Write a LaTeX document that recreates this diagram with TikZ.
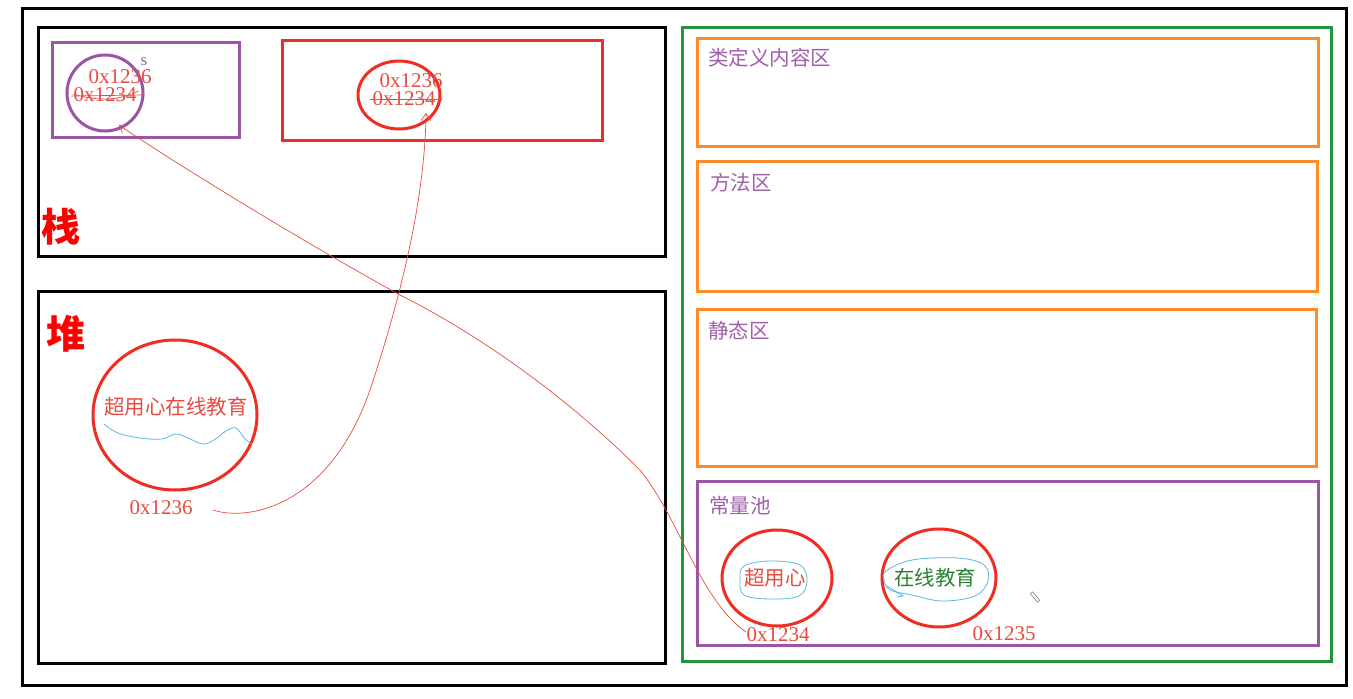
\documentclass[tikz,border=0pt]{standalone}
\usepackage{fontspec}
\setmainfont{Liberation Serif}
\newfontfamily\cjk{Noto Sans CJK SC}
\usetikzlibrary{shapes.geometric,arrows.meta}
\definecolor{cgreen}{RGB}{34,150,60}
\definecolor{corange}{RGB}{255,140,40}
\definecolor{cpurple}{RGB}{155,85,165}
\definecolor{cred}{RGB}{240,45,35}
\definecolor{tred}{RGB}{232,75,65}
\definecolor{tpurple}{RGB}{160,95,170}
\definecolor{cblue}{RGB}{90,185,225}
\definecolor{tgreen}{RGB}{40,130,50}
\tikzset{
  box/.style={draw, line width=3pt},
  circ/.style={ellipse, draw, line width=3pt, inner sep=0pt},
  hexlbl/.style={font=\fontsize{21}{21}\selectfont, text=tred, inner sep=0pt},
  cnlbl/.style={font=\cjk\fontsize{20.5}{20.5}\selectfont, inner sep=0pt},
  biglbl/.style={font=\cjk\bfseries\fontsize{39}{39}\selectfont, text=red, inner sep=0pt},
  strike/.style={draw=tred, line width=0.7pt},
  wire/.style={draw=tred, line width=0.7pt},
  wave/.style={draw=cblue, line width=0.8pt}
}
\begin{document}
\begin{tikzpicture}[x=1pt,y=-1pt]
\useasboundingbox (0,0) rectangle (1353,699);
\fill[white] (0,0) rectangle (1353,699);
% outer frame
\draw[box] (22,8) rectangle (1346,685);
% stack and heap
\draw[box] (38,27) rectangle (665,256);
\draw[box] (38,291) rectangle (665,663);
\node[biglbl] (zhan) at (61,227) {栈};
\node[biglbl] (dui) at (66,334) {堆};
% method area
\draw[box, draw=cgreen] (682,27) rectangle (1331,661);
\draw[box, draw=corange] (697,38) rectangle (1318,146);
\draw[box, draw=corange] (697,161) rectangle (1317,291);
\draw[box, draw=corange] (697,309) rectangle (1316,466);
\draw[box, draw=cpurple] (697,481) rectangle (1318,645);
\node[cnlbl, text=tpurple, anchor=west] (l1) at (708,58) {类定义内容区};
\node[cnlbl, text=tpurple, anchor=west] (l2) at (710,183) {方法区};
\node[cnlbl, text=tpurple, anchor=west] (l3) at (708,331) {静态区};
\node[cnlbl, text=tpurple, anchor=west] (l4) at (709,506) {常量池};
% stack variables
\draw[box, draw=cpurple] (52,42) rectangle (239,137);
\node[circ, draw=cpurple, minimum width=76pt, minimum height=76pt] (sc1) at (105,93) {};
\node[font=\fontsize{17}{17}\selectfont, text=tpurple, inner sep=0pt] (s) at (144,62) {s};
\node[hexlbl] (a1) at (120,77) {0x1236};
\node[hexlbl] (b1) at (105,95) {0x1234};
\draw[strike] (b1.west) ++(-2,1) -- ([xshift=8pt]b1.east);
\draw[strike] ([yshift=1pt]b1.west) .. controls (100,102) and (120,100) .. ([xshift=2pt,yshift=4pt]b1.east);
\draw[box, draw=cred] (282,40) rectangle (602,140);
\node[circ, draw=cred, minimum width=82pt, minimum height=68pt] (sc2) at (399,95) {};
\node[hexlbl] (a2) at (411,81) {0x1236};
\node[hexlbl] (b2) at (404,99) {0x1234};
\draw[strike] ([xshift=-2pt]b2.west) -- ([xshift=6pt]b2.east);
% heap object
\node[circ, draw=cred, minimum width=164pt, minimum height=150pt] (hc) at (175,415) {};
\node[cnlbl, text=tred] (ht) at (176,407) {超用心在线教育};
\draw[wave] plot[smooth, tension=0.6] coordinates {(104,424) (118,433) (140,438) (162,439) (176,434) (190,439) (203,444) (214,440) (226,431) (236,428) (245,439) (252,444)};
\node[hexlbl] (ha) at (161,508) {0x1236};
% constant pool
\node[circ, draw=cred, minimum width=110pt, minimum height=96pt] (pc1) at (777,578) {};
\node[circ, draw=cred, minimum width=114pt, minimum height=98pt] (pc2) at (939,578) {};
\node[cnlbl, text=tred] (pt1) at (775,578) {超用心};
\node[cnlbl, text=tgreen] (pt2) at (935,578) {在线教育};
\draw[wave] plot[smooth cycle, tension=0.6] coordinates {(744,566) (770,561) (800,565) (807,581) (799,596) (770,599) (744,595) (740,580)};
\draw[wave] plot[smooth cycle, tension=0.6] coordinates {(886,571) (912,560) (958,558) (984,565) (988,581) (975,596) (942,601) (912,595) (890,590) (884,580)};
\draw[wave] (887,586) -- (903,596) -- (897,597);
\node[hexlbl] (pa1) at (778,635) {0x1234};
\node[hexlbl] (pa2) at (1004,634) {0x1235};
% pencil cursor
\node[inner sep=0pt, minimum width=3pt, minimum height=11pt, draw=gray, fill=white, line width=0.6pt, rotate=-140] (pen) at (1035,597) {};
% connectors
\coordinate (c1s) at (213,510);
\coordinate (c1e) at (426,113);
\draw[wire, -{Straight Barb[length=7pt,width=10pt]}] (c1s) .. controls (250,522) and (330,505) .. (370,390)
  .. controls (400,300) and (425,200) .. (c1e);
\coordinate (c2s) at (746,632);
\coordinate (c2e) at (119,125);
\draw[wire, -{Straight Barb[length=7pt,width=10pt]}] (c2s) .. controls (700,600) and (680,520) .. (640,470)
  .. controls (560,390) and (470,330) .. (400,295)
  .. controls (300,240) and (170,160) .. (c2e);
\end{tikzpicture}
\end{document}
